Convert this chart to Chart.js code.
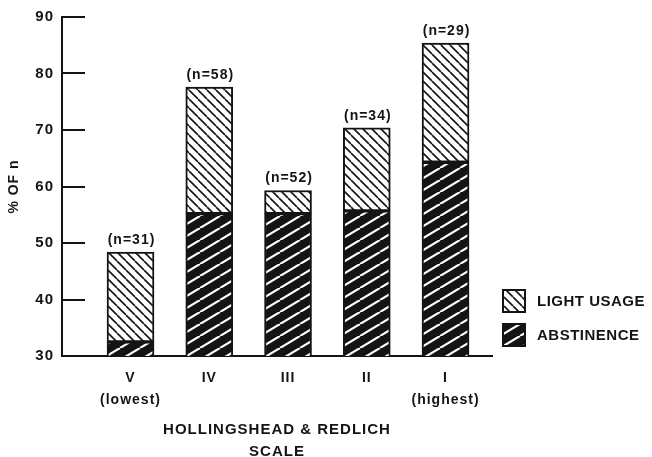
<!DOCTYPE html>
<html>
<head>
<meta charset="utf-8">
<script src="https://cdn.jsdelivr.net/npm/chart.js@4.4.0/dist/chart.umd.min.js"></script>
<style>
  html, body { margin: 0; padding: 0; background: #fff; }
</style>
</head>
<body>
<canvas id="class-chart" width="652" height="457"></canvas>
<script>
// values
const classLabels = [["V", "(lowest)"], "IV", "III", "II", ["I", "(highest)"]];
const sampleSizes = [31, 58, 52, 34, 29];
const abstinence = [32.5, 55.2, 55.2, 55.7, 64.3];
const barTops = [48.4, 77.6, 59.3, 70.4, 85.4]; // abstinence + light usage
const lightUsage = barTops.map((top, i) => +(top - abstinence[i]).toFixed(1));
const yTicks = [30, 40, 50, 60, 70, 80, 90];
const seriesNames = ["ABSTINENCE", "LIGHT USAGE"];

const INK = "#141414";
const FONT = '"Liberation Sans", Arial, Helvetica, sans-serif';

function makeHatch(w, h, bg, fg, lineWidth, forward) {
  const c = document.createElement("canvas");
  c.width = w;
  c.height = h;
  const g = c.getContext("2d");
  g.fillStyle = bg;
  g.fillRect(0, 0, w, h);
  g.strokeStyle = fg;
  g.lineWidth = lineWidth;
  g.beginPath();
  for (let k = -1; k <= 1; k++) {
    if (forward) {
      g.moveTo(k * w, h);
      g.lineTo(k * w + w, 0);
    } else {
      g.moveTo(k * w, 0);
      g.lineTo(k * w + w, h);
    }
  }
  g.stroke();
  return g.createPattern(c, "repeat");
}

const lightPattern = makeHatch(9, 9, "#fff", INK, 1.6, false);
const abstPattern = makeHatch(20, 12, INK, "#fff", 2.2, true);

const hatchPlugin = {
  id: "hatchExtras",
  beforeDraw(chart) {
    chart.ctx.letterSpacing = "1px";
  },
  afterDatasetsDraw(chart) {
    const ctx = chart.ctx;
    const meta = chart.getDatasetMeta(1);
    ctx.save();
    ctx.fillStyle = INK;
    ctx.font = `bold 14px ${FONT}`;
    ctx.textAlign = "center";
    ctx.textBaseline = "middle";
    meta.data.forEach((bar, i) => {
      ctx.fillText(`(n=${sampleSizes[i]})`, bar.x + 1, bar.y - 12);
    });
    ctx.restore();
  },
  afterDraw(chart) {
    const ctx = chart.ctx;
    const area = chart.chartArea;
    const yScale = chart.scales.y;

    // tick marks point into the plot
    ctx.save();
    ctx.strokeStyle = INK;
    ctx.lineWidth = 2;
    yTicks.forEach(v => {
      const y = Math.round(yScale.getPixelForValue(v));
      ctx.beginPath();
      ctx.moveTo(area.left, y);
      ctx.lineTo(area.left + 23, y);
      ctx.stroke();
    });
    ctx.restore();

    // legend, light usage on top
    const items = [
      { label: seriesNames[1], fill: lightPattern },
      { label: seriesNames[0], fill: abstPattern },
    ];
    const x0 = area.right + 10;
    let y0 = 289;
    ctx.save();
    ctx.font = `bold 15px ${FONT}`;
    ctx.letterSpacing = "0.5px";
    ctx.textBaseline = "middle";
    items.forEach(item => {
      ctx.fillStyle = item.fill;
      ctx.fillRect(x0, y0, 24, 24);
      ctx.strokeStyle = INK;
      ctx.lineWidth = 2;
      ctx.strokeRect(x0 + 1, y0 + 1, 22, 22);
      ctx.fillStyle = INK;
      ctx.fillText(item.label, x0 + 35, y0 + 13);
      y0 += 34;
    });
    ctx.restore();
  },
};

function createChart() {
  Chart.defaults.font.family = FONT;
  Chart.defaults.font.weight = "bold";
  Chart.defaults.color = INK;

  const points = arr => arr.map((v, i) => ({ x: i, y: v }));

  return new Chart(document.getElementById("class-chart"), {
    type: "bar",
    data: {
      datasets: [
        {
          label: seriesNames[0],
          data: points(abstinence),
          backgroundColor: abstPattern,
          borderColor: INK,
          borderWidth: 2,
          borderSkipped: false,
          barThickness: 47,
        },
        {
          label: seriesNames[1],
          data: points(lightUsage),
          backgroundColor: lightPattern,
          borderColor: INK,
          borderWidth: 2,
          borderSkipped: false,
          barThickness: 47,
        },
      ],
    },
    options: {
      responsive: false,
      animation: false,
      layout: { padding: { top: 17, right: 160, left: 0, bottom: 0 } },
      plugins: {
        legend: { display: false },
        tooltip: { enabled: false },
      },
      scales: {
        x: {
          type: "linear",
          offset: false,
          min: -0.87,
          max: 4.59,
          stacked: true,
          grid: { display: false, drawTicks: false, offset: false },
          border: { display: true, color: INK, width: 2 },
          afterBuildTicks: scale => {
            scale.ticks = classLabels.map((_, i) => ({ value: i }));
          },
          afterFit: scale => { scale.height = 101; },
          ticks: {
            callback: value => classLabels[value],
            autoSkip: false,
            maxRotation: 0,
            padding: 11,
            font: { size: 14, lineHeight: 1.6 },
          },
          title: {
            display: true,
            text: ["HOLLINGSHEAD & REDLICH", "SCALE"],
            font: { size: 15, lineHeight: 1.47 },
            padding: { top: 0, bottom: -6 },
          },
        },
        y: {
          min: 30,
          max: 90,
          stacked: true,
          grid: { display: false, drawTicks: false },
          border: { display: true, color: INK, width: 2 },
          afterBuildTicks: scale => {
            scale.ticks = yTicks.map(v => ({ value: v }));
          },
          afterFit: scale => { scale.width = 62; },
          ticks: { padding: 8, font: { size: 15 } },
          title: {
            display: true,
            text: "% OF n",
            font: { size: 14 },
            padding: { top: 6, bottom: 0 },
          },
        },
      },
    },
    plugins: [hatchPlugin],
  });
}

document.addEventListener("DOMContentLoaded", () => {
  createChart();
});
</script>
</body>
</html>
